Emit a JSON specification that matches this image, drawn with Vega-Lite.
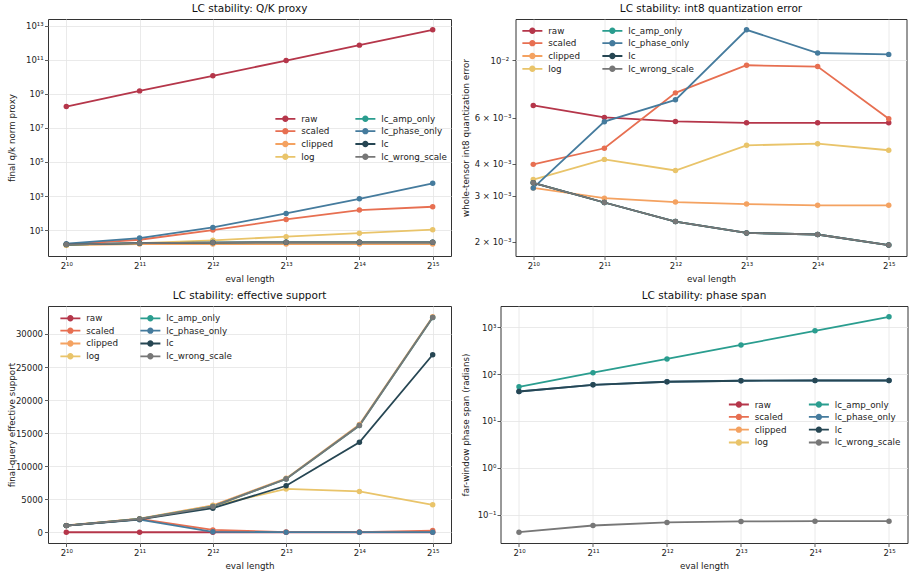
{
  "$schema": "https://vega.github.io/schema/vega-lite/v6.json",
  "background": "white",
  "padding": {"left": 7, "top": 3, "right": 2, "bottom": 2},
  "config": {
    "font": "DejaVu Sans",
    "view": {"stroke": "#333333", "strokeWidth": 1},
    "axis": {"domain": false, "grid": true, "gridColor": "#e4e4e4", "gridWidth": 0.8, "labelFont": "DejaVu Sans", "labelFontSize": 8.5, "labelColor": "#222222", "tickColor": "#333333", "tickSize": 3.5, "tickWidth": 0.8, "titleFont": "DejaVu Sans", "titleFontSize": 8.75, "titleFontWeight": "normal", "titleColor": "#222222", "labelPadding": 2, "titlePadding": 4},
    "title": {"font": "DejaVu Sans", "fontSize": 10.5, "fontWeight": "normal", "color": "#111111", "offset": 5},
    "legend": {"orient": "none", "columns": 2, "title": null, "padding": 0, "symbolSize": 49, "symbolStrokeWidth": 0, "labelFont": "DejaVu Sans", "labelFontSize": 8.75, "labelColor": "#222222", "labelOffset": 11.5, "rowPadding": 2.8, "columnPadding": 22}
  },
  "datasets": {
    "qk": [
      {"len": 1024, "method": "raw", "v": 1.8e8}, {"len": 2048, "method": "raw", "v": 1.5e9}, {"len": 4096, "method": "raw", "v": 1.15e10}, {"len": 8192, "method": "raw", "v": 9.1e10}, {"len": 16384, "method": "raw", "v": 7.3e11}, {"len": 32768, "method": "raw", "v": 5.8e12},
      {"len": 1024, "method": "scaled", "v": 1.45}, {"len": 2048, "method": "scaled", "v": 2.7}, {"len": 4096, "method": "scaled", "v": 10}, {"len": 8192, "method": "scaled", "v": 42}, {"len": 16384, "method": "scaled", "v": 150}, {"len": 32768, "method": "scaled", "v": 235},
      {"len": 1024, "method": "clipped", "v": 1.3}, {"len": 2048, "method": "clipped", "v": 1.5}, {"len": 4096, "method": "clipped", "v": 1.5}, {"len": 8192, "method": "clipped", "v": 1.5}, {"len": 16384, "method": "clipped", "v": 1.5}, {"len": 32768, "method": "clipped", "v": 1.5},
      {"len": 1024, "method": "log", "v": 1.3}, {"len": 2048, "method": "log", "v": 1.7}, {"len": 4096, "method": "log", "v": 2.5}, {"len": 8192, "method": "log", "v": 4.1}, {"len": 16384, "method": "log", "v": 6.6}, {"len": 32768, "method": "log", "v": 10.5},
      {"len": 1024, "method": "lc_amp_only", "v": 1.4}, {"len": 2048, "method": "lc_amp_only", "v": 1.7}, {"len": 4096, "method": "lc_amp_only", "v": 1.85}, {"len": 8192, "method": "lc_amp_only", "v": 1.9}, {"len": 16384, "method": "lc_amp_only", "v": 1.9}, {"len": 32768, "method": "lc_amp_only", "v": 1.9},
      {"len": 1024, "method": "lc_phase_only", "v": 1.6}, {"len": 2048, "method": "lc_phase_only", "v": 3.4}, {"len": 4096, "method": "lc_phase_only", "v": 14.4}, {"len": 8192, "method": "lc_phase_only", "v": 95}, {"len": 16384, "method": "lc_phase_only", "v": 690}, {"len": 32768, "method": "lc_phase_only", "v": 5600},
      {"len": 1024, "method": "lc", "v": 1.4}, {"len": 2048, "method": "lc", "v": 1.7}, {"len": 4096, "method": "lc", "v": 1.85}, {"len": 8192, "method": "lc", "v": 1.9}, {"len": 16384, "method": "lc", "v": 1.9}, {"len": 32768, "method": "lc", "v": 1.9},
      {"len": 1024, "method": "lc_wrong_scale", "v": 1.4}, {"len": 2048, "method": "lc_wrong_scale", "v": 1.7}, {"len": 4096, "method": "lc_wrong_scale", "v": 1.85}, {"len": 8192, "method": "lc_wrong_scale", "v": 1.9}, {"len": 16384, "method": "lc_wrong_scale", "v": 1.9}, {"len": 32768, "method": "lc_wrong_scale", "v": 1.9}
    ],
    "quant": [
      {"len": 1024, "method": "raw", "v": 0.0067}, {"len": 2048, "method": "raw", "v": 0.00602}, {"len": 4096, "method": "raw", "v": 0.00581}, {"len": 8192, "method": "raw", "v": 0.00574}, {"len": 16384, "method": "raw", "v": 0.00574}, {"len": 32768, "method": "raw", "v": 0.00574},
      {"len": 1024, "method": "scaled", "v": 0.00397}, {"len": 2048, "method": "scaled", "v": 0.00458}, {"len": 4096, "method": "scaled", "v": 0.00749}, {"len": 8192, "method": "scaled", "v": 0.00957}, {"len": 16384, "method": "scaled", "v": 0.00946}, {"len": 32768, "method": "scaled", "v": 0.00595},
      {"len": 1024, "method": "clipped", "v": 0.00322}, {"len": 2048, "method": "clipped", "v": 0.00294}, {"len": 4096, "method": "clipped", "v": 0.00284}, {"len": 8192, "method": "clipped", "v": 0.00279}, {"len": 16384, "method": "clipped", "v": 0.00276}, {"len": 32768, "method": "clipped", "v": 0.00276},
      {"len": 1024, "method": "log", "v": 0.00347}, {"len": 2048, "method": "log", "v": 0.00415}, {"len": 4096, "method": "log", "v": 0.00376}, {"len": 8192, "method": "log", "v": 0.0047}, {"len": 16384, "method": "log", "v": 0.00477}, {"len": 32768, "method": "log", "v": 0.0045},
      {"len": 1024, "method": "lc_amp_only", "v": 0.00337}, {"len": 2048, "method": "lc_amp_only", "v": 0.00283}, {"len": 4096, "method": "lc_amp_only", "v": 0.00239}, {"len": 8192, "method": "lc_amp_only", "v": 0.00216}, {"len": 16384, "method": "lc_amp_only", "v": 0.00213}, {"len": 32768, "method": "lc_amp_only", "v": 0.00194},
      {"len": 1024, "method": "lc_phase_only", "v": 0.00322}, {"len": 2048, "method": "lc_phase_only", "v": 0.0058}, {"len": 4096, "method": "lc_phase_only", "v": 0.00704}, {"len": 8192, "method": "lc_phase_only", "v": 0.01311}, {"len": 16384, "method": "lc_phase_only", "v": 0.01067}, {"len": 32768, "method": "lc_phase_only", "v": 0.01054},
      {"len": 1024, "method": "lc", "v": 0.00337}, {"len": 2048, "method": "lc", "v": 0.00283}, {"len": 4096, "method": "lc", "v": 0.00239}, {"len": 8192, "method": "lc", "v": 0.00216}, {"len": 16384, "method": "lc", "v": 0.00213}, {"len": 32768, "method": "lc", "v": 0.00194},
      {"len": 1024, "method": "lc_wrong_scale", "v": 0.00337}, {"len": 2048, "method": "lc_wrong_scale", "v": 0.00283}, {"len": 4096, "method": "lc_wrong_scale", "v": 0.00239}, {"len": 8192, "method": "lc_wrong_scale", "v": 0.00216}, {"len": 16384, "method": "lc_wrong_scale", "v": 0.00213}, {"len": 32768, "method": "lc_wrong_scale", "v": 0.00194}
    ],
    "support": [
      {"len": 1024, "method": "raw", "v": 0}, {"len": 2048, "method": "raw", "v": 0}, {"len": 4096, "method": "raw", "v": 0}, {"len": 8192, "method": "raw", "v": 0}, {"len": 16384, "method": "raw", "v": 0}, {"len": 32768, "method": "raw", "v": 0},
      {"len": 1024, "method": "scaled", "v": 1000}, {"len": 2048, "method": "scaled", "v": 2000}, {"len": 4096, "method": "scaled", "v": 350}, {"len": 8192, "method": "scaled", "v": 30}, {"len": 16384, "method": "scaled", "v": 20}, {"len": 32768, "method": "scaled", "v": 250},
      {"len": 1024, "method": "clipped", "v": 1020}, {"len": 2048, "method": "clipped", "v": 2040}, {"len": 4096, "method": "clipped", "v": 4080}, {"len": 8192, "method": "clipped", "v": 8150}, {"len": 16384, "method": "clipped", "v": 16300}, {"len": 32768, "method": "clipped", "v": 32600},
      {"len": 1024, "method": "log", "v": 1000}, {"len": 2048, "method": "log", "v": 2000}, {"len": 4096, "method": "log", "v": 4000}, {"len": 8192, "method": "log", "v": 6550}, {"len": 16384, "method": "log", "v": 6170}, {"len": 32768, "method": "log", "v": 4150},
      {"len": 1024, "method": "lc_amp_only", "v": 1000}, {"len": 2048, "method": "lc_amp_only", "v": 2000}, {"len": 4096, "method": "lc_amp_only", "v": 3900}, {"len": 8192, "method": "lc_amp_only", "v": 8050}, {"len": 16384, "method": "lc_amp_only", "v": 16150}, {"len": 32768, "method": "lc_amp_only", "v": 32500},
      {"len": 1024, "method": "lc_phase_only", "v": 1000}, {"len": 2048, "method": "lc_phase_only", "v": 1900}, {"len": 4096, "method": "lc_phase_only", "v": 60}, {"len": 8192, "method": "lc_phase_only", "v": 10}, {"len": 16384, "method": "lc_phase_only", "v": 10}, {"len": 32768, "method": "lc_phase_only", "v": 10},
      {"len": 1024, "method": "lc", "v": 1000}, {"len": 2048, "method": "lc", "v": 1950}, {"len": 4096, "method": "lc", "v": 3640}, {"len": 8192, "method": "lc", "v": 7030}, {"len": 16384, "method": "lc", "v": 13600}, {"len": 32768, "method": "lc", "v": 26860},
      {"len": 1024, "method": "lc_wrong_scale", "v": 1000}, {"len": 2048, "method": "lc_wrong_scale", "v": 2000}, {"len": 4096, "method": "lc_wrong_scale", "v": 3900}, {"len": 8192, "method": "lc_wrong_scale", "v": 8050}, {"len": 16384, "method": "lc_wrong_scale", "v": 16150}, {"len": 32768, "method": "lc_wrong_scale", "v": 32500}
    ],
    "phase": [
      {"len": 1024, "method": "lc_amp_only", "v": 53.5}, {"len": 2048, "method": "lc_amp_only", "v": 107}, {"len": 4096, "method": "lc_amp_only", "v": 210}, {"len": 8192, "method": "lc_amp_only", "v": 418}, {"len": 16384, "method": "lc_amp_only", "v": 834}, {"len": 32768, "method": "lc_amp_only", "v": 1665},
      {"len": 1024, "method": "lc_phase_only", "v": 42.5}, {"len": 2048, "method": "lc_phase_only", "v": 59}, {"len": 4096, "method": "lc_phase_only", "v": 68.5}, {"len": 8192, "method": "lc_phase_only", "v": 72}, {"len": 16384, "method": "lc_phase_only", "v": 72.8}, {"len": 32768, "method": "lc_phase_only", "v": 72.8},
      {"len": 1024, "method": "lc", "v": 42.5}, {"len": 2048, "method": "lc", "v": 59}, {"len": 4096, "method": "lc", "v": 68.5}, {"len": 8192, "method": "lc", "v": 72}, {"len": 16384, "method": "lc", "v": 72.8}, {"len": 32768, "method": "lc", "v": 72.8},
      {"len": 1024, "method": "lc_wrong_scale", "v": 0.0425}, {"len": 2048, "method": "lc_wrong_scale", "v": 0.059}, {"len": 4096, "method": "lc_wrong_scale", "v": 0.0686}, {"len": 8192, "method": "lc_wrong_scale", "v": 0.072}, {"len": 16384, "method": "lc_wrong_scale", "v": 0.0731}, {"len": 32768, "method": "lc_wrong_scale", "v": 0.0731}
    ]
  },
  "columns": 2,
  "align": "none",
  "spacing": {"row": 6, "column": 8.5},
  "concat": [
    {
      "width": 403, "height": 237,
      "title": "LC stability: Q/K proxy",
      "data": {"name": "qk"},
      "encoding": {
        "x": {"field": "len", "type": "quantitative", "scale": {"type": "log", "base": 2, "domain": [861.08, 38968], "nice": false}, "axis": {"values": [1024, 2048, 4096, 8192, 16384, 32768], "labelExpr": "'2' + ['¹⁰','¹¹','¹²','¹³','¹⁴','¹⁵'][round(log(datum.value)/LN2) - 10]", "title": "eval length"}},
        "y": {"field": "v", "type": "quantitative", "scale": {"type": "log", "domain": [0.3, 2.5e13], "nice": false}, "axis": {"values": [10, 1000, 100000, 10000000, 1000000000, 100000000000, 10000000000000], "labelExpr": "'10' + ['⁰','¹','²','³','⁴','⁵','⁶','⁷','⁸','⁹','¹⁰','¹¹','¹²','¹³'][round(log(datum.value)/LN10)]", "labelAlign": "left", "labelPadding": {"condition": {"test": "datum.value > 1e10", "value": 19}, "value": 15.5}, "title": "final q/k norm proxy", "titleX": -31.4}},
        "color": {"field": "method", "type": "nominal", "scale": {"domain": ["raw", "scaled", "clipped", "log", "lc_amp_only", "lc_phase_only", "lc", "lc_wrong_scale"], "range": ["#b5364a", "#e76f51", "#f4a261", "#e9c46a", "#2a9d8f", "#457b9d", "#264653", "#777777"]}, "legend": {"legendX": 233, "legendY": 95, "symbolType": "M-2.857,-0.257L2.857,-0.257L2.857,0.257L-2.857,0.257ZM0.914,0A0.914,0.914,0,1,1,-0.914,0A0.914,0.914,0,1,1,0.914,0Z"}}
      },
      "layer": [
        {"mark": {"type": "line", "strokeWidth": 1.8}},
        {"mark": {"type": "point", "filled": true, "size": 30, "opacity": 1}}
      ]
    },
    {
      "width": 391, "height": 237,
      "title": "LC stability: int8 quantization error",
      "data": {"name": "quant"},
      "encoding": {
        "x": {"field": "len", "type": "quantitative", "scale": {"type": "log", "base": 2, "domain": [861.08, 38968], "nice": false}, "axis": {"values": [1024, 2048, 4096, 8192, 16384, 32768], "labelExpr": "'2' + ['¹⁰','¹¹','¹²','¹³','¹⁴','¹⁵'][round(log(datum.value)/LN2) - 10]", "title": "eval length"}},
        "y": {"field": "v", "type": "quantitative", "scale": {"type": "log", "domain": [0.00176, 0.01443], "nice": false}, "axis": {"values": [0.002, 0.003, 0.004, 0.006, 0.01], "labelExpr": "datum.value > 0.009 ? '10⁻²' : format(datum.value * 1000, 'd') + ' × 10⁻³'", "labelAlign": "left", "labelPadding": {"condition": {"test": "datum.value > 0.009", "value": 22}, "value": 37.8}, "gridOpacity": {"condition": {"test": "datum.value > 0.009", "value": 1}, "value": 0}, "title": "whole-tensor int8 quantization error", "titleX": -45}},
        "color": {"field": "method", "type": "nominal", "scale": {"domain": ["raw", "scaled", "clipped", "log", "lc_amp_only", "lc_phase_only", "lc", "lc_wrong_scale"], "range": ["#b5364a", "#e76f51", "#f4a261", "#e9c46a", "#2a9d8f", "#457b9d", "#264653", "#777777"]}, "legend": {"legendX": 12.5, "legendY": 7, "symbolType": "M-2.857,-0.257L2.857,-0.257L2.857,0.257L-2.857,0.257ZM0.914,0A0.914,0.914,0,1,1,-0.914,0A0.914,0.914,0,1,1,0.914,0Z"}}
      },
      "layer": [
        {"mark": {"type": "line", "strokeWidth": 1.8}},
        {"mark": {"type": "point", "filled": true, "size": 30, "opacity": 1}}
      ]
    },
    {
      "width": 403, "height": 237,
      "title": "LC stability: effective support",
      "data": {"name": "support"},
      "encoding": {
        "x": {"field": "len", "type": "quantitative", "scale": {"type": "log", "base": 2, "domain": [861.08, 38968], "nice": false}, "axis": {"values": [1024, 2048, 4096, 8192, 16384, 32768], "labelExpr": "'2' + ['¹⁰','¹¹','¹²','¹³','¹⁴','¹⁵'][round(log(datum.value)/LN2) - 10]", "title": "eval length"}},
        "y": {"field": "v", "type": "quantitative", "scale": {"domain": [-1630, 34230], "nice": false, "zero": false}, "axis": {"values": [0, 5000, 10000, 15000, 20000, 25000, 30000], "format": "d", "title": "final-query effective support", "titleX": -31.4}},
        "color": {"field": "method", "type": "nominal", "scale": {"domain": ["raw", "scaled", "clipped", "log", "lc_amp_only", "lc_phase_only", "lc", "lc_wrong_scale"], "range": ["#b5364a", "#e76f51", "#f4a261", "#e9c46a", "#2a9d8f", "#457b9d", "#264653", "#777777"]}, "legend": {"legendX": 18, "legendY": 7.5, "symbolType": "M-2.857,-0.257L2.857,-0.257L2.857,0.257L-2.857,0.257ZM0.914,0A0.914,0.914,0,1,1,-0.914,0A0.914,0.914,0,1,1,0.914,0Z"}}
      },
      "layer": [
        {"mark": {"type": "line", "strokeWidth": 1.8}},
        {"mark": {"type": "point", "filled": true, "size": 30, "opacity": 1}}
      ]
    },
    {
      "width": 407, "height": 237,
      "title": "LC stability: phase span",
      "data": {"name": "phase"},
      "encoding": {
        "x": {"field": "len", "type": "quantitative", "scale": {"type": "log", "base": 2, "domain": [861.08, 38968], "nice": false}, "axis": {"values": [1024, 2048, 4096, 8192, 16384, 32768], "labelExpr": "'2' + ['¹⁰','¹¹','¹²','¹³','¹⁴','¹⁵'][round(log(datum.value)/LN2) - 10]", "title": "eval length"}},
        "y": {"field": "v", "type": "quantitative", "scale": {"type": "log", "domain": [0.025, 2825], "nice": false}, "axis": {"values": [0.1, 1, 10, 100, 1000], "labelExpr": "'10' + ['⁻¹','⁰','¹','²','³'][round(log(datum.value)/LN10) + 1]", "labelAlign": "left", "labelPadding": {"condition": {"test": "datum.value < 0.5", "value": 19.8}, "value": 15.4}, "title": "far-window phase span (radians)", "titleX": -30}},
        "color": {"field": "method", "type": "nominal", "scale": {"domain": ["raw", "scaled", "clipped", "log", "lc_amp_only", "lc_phase_only", "lc", "lc_wrong_scale"], "range": ["#b5364a", "#e76f51", "#f4a261", "#e9c46a", "#2a9d8f", "#457b9d", "#264653", "#777777"]}, "legend": {"legendX": 234, "legendY": 93.7, "symbolType": "M-2.857,-0.257L2.857,-0.257L2.857,0.257L-2.857,0.257ZM0.914,0A0.914,0.914,0,1,1,-0.914,0A0.914,0.914,0,1,1,0.914,0Z"}}
      },
      "layer": [
        {"mark": {"type": "line", "strokeWidth": 1.8}},
        {"mark": {"type": "point", "filled": true, "size": 30, "opacity": 1}}
      ]
    }
  ],
  "resolve": {"scale": {"color": "independent"}, "legend": {"color": "independent"}}
}
